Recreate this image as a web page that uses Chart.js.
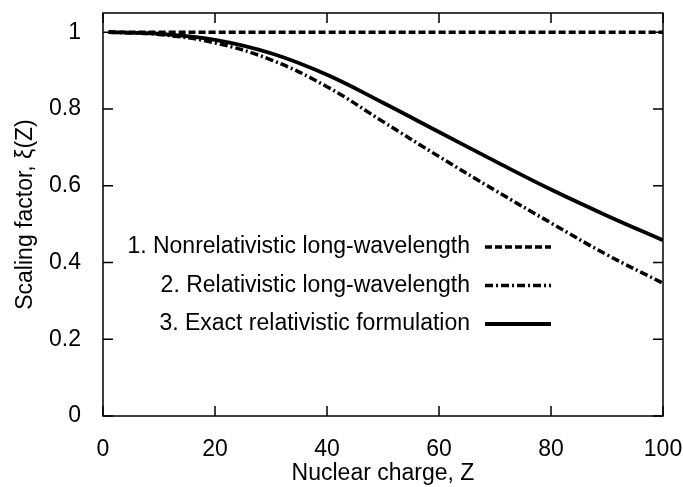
<!DOCTYPE html>
<html>
<head>
<meta charset="utf-8">
<script src="https://cdn.jsdelivr.net/npm/chart.js@4"></script>
<style>
    html, body { margin: 0; padding: 0; background: #fff; }
    #wrap { width: 683px; height: 487px; }
</style>
</head>
<body>
<div id="wrap"><canvas id="scalingChart" width="683" height="487"></canvas></div>
<script>
// nuclear charge Z
const zValues = [1, 10, 20, 30, 40, 50, 60, 70, 80, 90, 100];
// 1. nonrelativistic long-wavelength
const nonrelValues = [1, 1, 1, 1, 1, 1, 1, 1, 1, 1, 1];
// 2. relativistic long-wavelength
const relLongValues = [1.0, 0.994, 0.972, 0.928, 0.858, 0.767, 0.676, 0.588, 0.503, 0.420, 0.346];
// 3. exact relativistic formulation
const exactValues = [1.0, 0.996, 0.980, 0.945, 0.889, 0.816, 0.740, 0.664, 0.590, 0.522, 0.458];

const xTicks = [0, 20, 40, 60, 80, 100];
const yTicks = [0, 0.2, 0.4, 0.6, 0.8, 1];

const seriesLabels = [
    '1. Nonrelativistic long-wavelength',
    '2. Relativistic long-wavelength',
    '3. Exact relativistic formulation'
];

const FONT = '"Liberation Sans", Arial, Helvetica, sans-serif';
const FONT_SIZE = 23;

function toPoints(ys) {
    return zValues.map((z, i) => ({ x: z, y: ys[i] }));
}

const dashStyles = [[7, 3], [8, 3, 2, 3], []];
const lineWidths = [3.5, 3.5, 3.8];

// box + inward ticks on all four sides, and the in-plot legend
const framePlugin = {
    id: 'frame',
    afterDatasetsDraw(chart) {
        const { ctx, chartArea: a, scales } = chart;
        const tl = 10;
        ctx.save();
        ctx.strokeStyle = '#000';
        ctx.lineWidth = 1.5;
        ctx.setLineDash([]);
        ctx.strokeRect(a.left, a.top, a.right - a.left, a.bottom - a.top);
        ctx.beginPath();
        xTicks.forEach(v => {
            const px = scales.x.getPixelForValue(v);
            ctx.moveTo(px, a.bottom); ctx.lineTo(px, a.bottom - tl);
            ctx.moveTo(px, a.top); ctx.lineTo(px, a.top + tl);
        });
        yTicks.forEach(v => {
            const py = scales.y.getPixelForValue(v);
            ctx.moveTo(a.left, py); ctx.lineTo(a.left + tl, py);
            ctx.moveTo(a.right, py); ctx.lineTo(a.right - tl, py);
        });
        ctx.stroke();

        // legend
        ctx.font = FONT_SIZE + 'px ' + FONT;
        ctx.fillStyle = '#000';
        ctx.textAlign = 'right';
        ctx.textBaseline = 'middle';
        const textRight = a.left + 367;
        const lineStart = a.left + 382;
        const lineEnd = a.left + 448;
        chart.data.datasets.forEach((ds, i) => {
            const y = a.top + 234 + i * 38.5;
            ctx.fillText(seriesLabels[i], textRight, y);
            ctx.beginPath();
            ctx.lineWidth = lineWidths[i];
            ctx.setLineDash(dashStyles[i]);
            ctx.moveTo(lineStart, y);
            ctx.lineTo(lineEnd, y);
            ctx.stroke();
        });
        ctx.restore();
    }
};

const ctx = document.getElementById('scalingChart').getContext('2d');
const scalingChart = new Chart(ctx, {
    type: 'line',
    data: {
        datasets: [
            { label: seriesLabels[0], data: toPoints(nonrelValues) },
            { label: seriesLabels[1], data: toPoints(relLongValues) },
            { label: seriesLabels[2], data: toPoints(exactValues) }
        ].map((ds, i) => Object.assign(ds, {
            borderColor: '#000',
            borderWidth: lineWidths[i],
            borderDash: dashStyles[i],
            pointRadius: 0,
            fill: false,
            tension: 0.4
        }))
    },
    options: {
        responsive: false,
        animation: false,
        layout: { padding: { top: 13, right: 20, left: 0, bottom: 0 } },
        plugins: {
            legend: { display: false },
            tooltip: { enabled: false }
        },
        scales: {
            x: {
                type: 'linear',
                min: 0,
                max: 100,
                afterBuildTicks: s => { s.ticks = xTicks.map(v => ({ value: v })); },
                // fixed height, and no extra room for label overhang
                afterFit: s => { s.height = 71; s.paddingLeft = 0; s.paddingRight = 0; },
                grid: { display: false },
                border: { display: false },
                ticks: { color: '#000', padding: 12, maxRotation: 0, font: { family: FONT, size: FONT_SIZE } },
                title: {
                    display: true,
                    text: 'Nuclear charge, Z',
                    color: '#000',
                    padding: { top: 1, bottom: 0 },
                    font: { family: FONT, size: FONT_SIZE }
                }
            },
            y: {
                type: 'linear',
                min: 0,
                max: 1.05,
                afterBuildTicks: s => { s.ticks = yTicks.map(v => ({ value: v })); },
                afterFit: s => { s.width = 103; s.paddingTop = 0; s.paddingBottom = 0; },
                grid: { display: false },
                border: { display: false },
                ticks: { color: '#000', padding: 14, font: { family: FONT, size: FONT_SIZE }, callback: v => String(v) },
                title: {
                    display: true,
                    text: 'Scaling factor, ξ(Z)',
                    color: '#000',
                    padding: { top: 12, bottom: 0 },
                    font: { family: FONT, size: FONT_SIZE }
                }
            }
        }
    },
    plugins: [framePlugin]
});
</script>
</body>
</html>
